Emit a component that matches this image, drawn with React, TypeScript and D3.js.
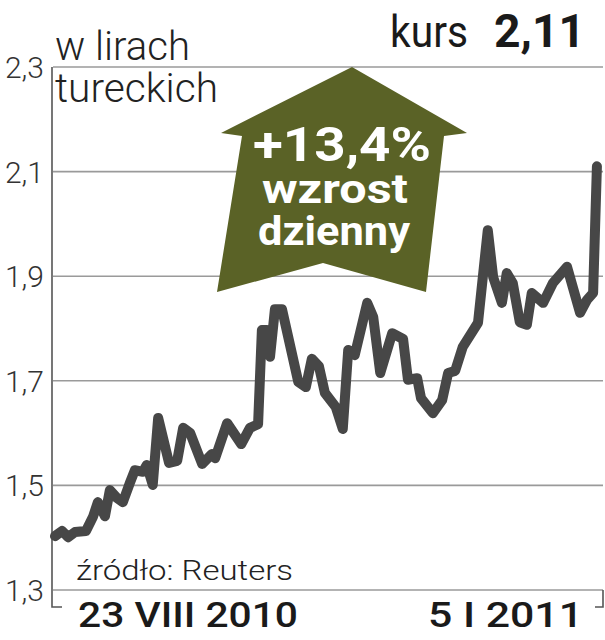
import React from "react";
import * as d3 from "d3";

const W = 605;
const H = 640;

// trading-day index (0..100) and TRY rate
const dayIndex = [
  0, 1.3, 2.4, 3.7, 5.7, 7.0, 7.9, 9.2, 10.1, 11.4, 12.5, 13.8, 14.7, 16.2, 16.9, 18.0, 19.0,
  21.0, 22.5, 23.6, 24.9, 27.1, 28.9, 29.5, 31.7, 34.3, 35.9, 37.4, 38.1, 39.0, 39.6, 40.5,
  41.8, 44.8, 46.2, 47.3, 48.6, 49.7, 51.7, 53.0, 54.0, 55.2, 57.5, 58.6, 59.9, 62.1, 64.1,
  65.0, 66.7, 67.4, 69.6, 71.3, 72.4, 73.7, 75.1, 77.9, 79.7, 80.7, 82.3, 83.2, 84.3, 85.6,
  86.9, 87.8, 89.9, 91.7, 94.3, 96.7, 98.0, 99.1, 99.8,
];
const rate = [
  1.403, 1.413, 1.401, 1.411, 1.413, 1.44, 1.468, 1.441, 1.491, 1.476, 1.468, 1.505, 1.529,
  1.526, 1.539, 1.501, 1.629, 1.543, 1.547, 1.61, 1.6, 1.541, 1.56, 1.552, 1.619, 1.579, 1.61,
  1.617, 1.797, 1.797, 1.746, 1.837, 1.837, 1.698, 1.688, 1.742, 1.728, 1.677, 1.65, 1.608,
  1.759, 1.749, 1.849, 1.822, 1.715, 1.791, 1.78, 1.702, 1.705, 1.667, 1.638, 1.663, 1.715,
  1.719, 1.765, 1.811, 1.988, 1.898, 1.849, 1.906, 1.887, 1.812, 1.807, 1.868, 1.849, 1.887,
  1.918, 1.83, 1.855, 1.868, 2.11,
];
const yTicks = [1.3, 1.5, 1.7, 1.9, 2.1, 2.3];
const dateLabels = ["23 VIII 2010", "5 I 2011"];
const unitLines = ["w lirach", "tureckich"];
const arrowLines = ["+13,4%", "wzrost", "dzienny"];
const kursLabel = "kurs";
const kursValue = "2,11";
const sourceLabel = "źródło: Reuters";

const LIGHT = "Roboto, 'Open Sans', 'DejaVu Sans', sans-serif";

export default function App() {
  const x = d3.scaleLinear().domain([0, 100]).range([55, 598]);
  const y = d3.scaleLinear().domain([1.3, 2.3]).range([590, 67]);
  const pts: [number, number][] = dayIndex.map((d, i) => [d, rate[i]]);
  const line = d3
    .line<[number, number]>()
    .x((d) => x(d[0]))
    .y((d) => y(d[1]));
  const fmt = (v: number) => v.toFixed(1).replace(".", ",");

  const arrow = [
    [352, 67],
    [467, 133],
    [444, 136],
    [426, 292],
    [323, 263],
    [217, 292],
    [242, 136],
    [221, 133],
  ]
    .map((p) => p.join(","))
    .join(" ");

  return (
    <svg
      width={W}
      height={H}
      style={{ position: "absolute", left: 0, top: 0, background: "#fff" }}
    >
      {/* grid */}
      {yTicks.map((t) => (
        <line
          key={t}
          x1={53}
          x2={603}
          y1={y(t)}
          y2={y(t)}
          stroke="#9a9a9a"
          strokeWidth={1.6}
        />
      ))}
      {/* axis bracket */}
      <path d={`M52,${y(2.3)} V607 H62`} fill="none" stroke="#555" strokeWidth={1.6} />
      <path d={`M603,${y(1.3)} V607 H595`} fill="none" stroke="#555" strokeWidth={1.6} />
      {/* tick labels */}
      {yTicks.map((t) => (
        <text
          key={"l" + t}
          x={44}
          y={y(t) + 11}
          textAnchor="end"
          fontFamily={LIGHT}
          fontWeight={300}
          fontSize={30}
          fill="#333"
        >
          {fmt(t)}
        </text>
      ))}
      {/* unit */}
      <text x={55} y={60} fontFamily={LIGHT} fontWeight={300} fontSize={40} fill="#222"
        textLength={135} lengthAdjust="spacingAndGlyphs">
        {unitLines[0]}
      </text>
      <text x={55} y={102} fontFamily={LIGHT} fontWeight={300} fontSize={40} fill="#222"
        textLength={163} lengthAdjust="spacingAndGlyphs">
        {unitLines[1]}
      </text>
      {/* kurs */}
      <text x={390} y={47} fontFamily={LIGHT} fontWeight={400} fontSize={44} fill="#1a1a1a"
        textLength={78} lengthAdjust="spacingAndGlyphs">
        {kursLabel}
      </text>
      <text x={494} y={47} fontFamily={LIGHT} fontWeight={700} fontSize={46} fill="#1a1a1a"
        textLength={91} lengthAdjust="spacingAndGlyphs">
        {kursValue}
      </text>
      {/* arrow */}
      <polygon points={arrow} fill="#5a6226" />
      <text x={253} y={161} fontFamily={LIGHT} fontWeight={700} fontSize={48} fill="#fff"
        textLength={178} lengthAdjust="spacingAndGlyphs">
        {arrowLines[0]}
      </text>
      <text x={262} y={203} fontFamily={LIGHT} fontWeight={700} fontSize={40} fill="#fff"
        textLength={146} lengthAdjust="spacingAndGlyphs">
        {arrowLines[1]}
      </text>
      <text x={258} y={245} fontFamily={LIGHT} fontWeight={700} fontSize={41} fill="#fff"
        textLength={152} lengthAdjust="spacingAndGlyphs">
        {arrowLines[2]}
      </text>
      {/* data line */}
      <path
        d={line(pts) || ""}
        fill="none"
        stroke="#474747"
        strokeWidth={10}
        strokeLinejoin="round"
        strokeLinecap="round"
      />
      {/* source */}
      <text x={76} y={580} fontFamily={LIGHT} fontWeight={300} fontSize={28} fill="#222"
        textLength={217} lengthAdjust="spacingAndGlyphs">
        {sourceLabel}
      </text>
      {/* dates */}
      <text x={78} y={627} fontFamily={LIGHT} fontWeight={500} fontSize={35} fill="#1a1a1a"
        textLength={220} lengthAdjust="spacingAndGlyphs">
        {dateLabels[0]}
      </text>
      <text x={428} y={627} fontFamily={LIGHT} fontWeight={500} fontSize={35} fill="#1a1a1a"
        textLength={155} lengthAdjust="spacingAndGlyphs">
        {dateLabels[1]}
      </text>
    </svg>
  );
}
